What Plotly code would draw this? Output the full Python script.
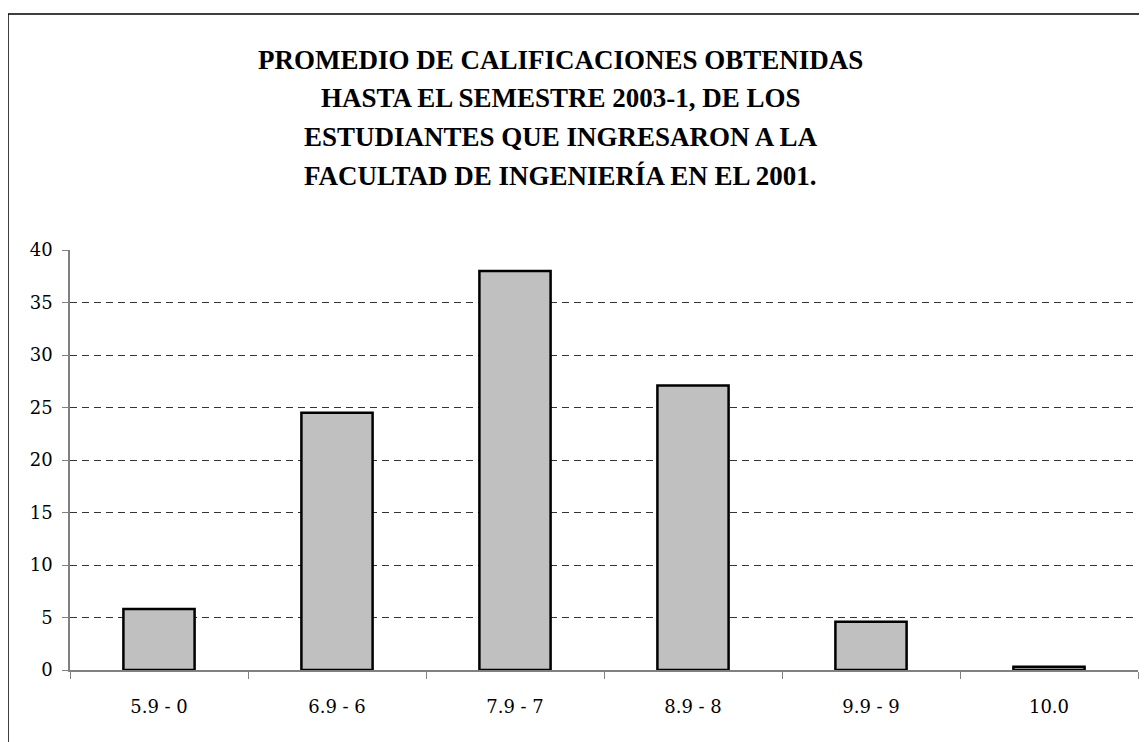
import plotly.graph_objects as go

categories = ["5.9 - 0", "6.9 - 6", "7.9 - 7", "8.9 - 8", "9.9 - 9", "10.0"]
values = [5.8, 24.5, 38.0, 27.1, 4.6, 0.3]
y_ticks = [0, 5, 10, 15, 20, 25, 30, 35, 40]
grid_ticks = [5, 10, 15, 20, 25, 30, 35]

title_lines = ["PROMEDIO DE CALIFICACIONES OBTENIDAS",
               "HASTA EL SEMESTRE 2003-1, DE LOS",
               "ESTUDIANTES QUE INGRESARON A LA",
               "FACULTAD DE INGENIERÍA EN EL 2001."]
title_y = [1.452, 1.362, 1.269, 1.176]

SERIF = "Liberation Serif, DejaVu Serif, serif"
TICKSERIF = "DejaVu Serif, Liberation Serif, serif"

fig = go.Figure()
# invisible trace to activate the dashed-grid axis
fig.add_trace(go.Scatter(x=categories, y=values, yaxis="y2", mode="none",
                         hoverinfo="skip", showlegend=False))
fig.add_trace(go.Bar(
    x=categories, y=values,
    marker=dict(color="#C0C0C0", line=dict(color="black", width=2.5)),
    width=0.4, yaxis="y",
))

fig.update_layout(
    width=1139, height=734,
    paper_bgcolor="white", plot_bgcolor="white",
    margin=dict(l=62, r=9, t=242, b=72),
    font=dict(family=TICKSERIF, color="black", size=18),
    showlegend=False,
    xaxis=dict(
        type="category", showline=True, linecolor="#808080", linewidth=1.5,
        ticks="outside", tickson="boundaries", ticklen=7, tickcolor="#808080",
        showgrid=False, tickfont=dict(family=TICKSERIF, size=18), range=[-0.5, 5.5],
        ticklabelstandoff=20,
    ),
    yaxis=dict(
        range=[0, 40], tickvals=y_ticks, showgrid=False, zeroline=False,
        showline=True, linecolor="#808080", linewidth=1.5,
        ticks="outside", ticklen=6, tickcolor="#808080",
        tickfont=dict(family=TICKSERIF, size=18), ticklabelstandoff=6,
    ),
    yaxis2=dict(
        range=[0, 40], overlaying="y", tickvals=grid_ticks, showgrid=True,
        gridcolor="#333333", griddash="7px,5px", gridwidth=1,
        showticklabels=False, zeroline=False, showline=False,
    ),
)

for line, yy in zip(title_lines, title_y):
    fig.add_annotation(text="<b>" + line + "</b>", xref="paper", yref="paper",
                       x=0.4597, y=yy, xanchor="center", yanchor="middle",
                       showarrow=False, font=dict(family=SERIF, size=27, color="black"))

fig.add_shape(type="rect", xref="paper", yref="paper",
              x0=-62/1068, x1=1.2, y0=-0.5, y1=656/420,
              line=dict(color="black", width=1.5), fillcolor="rgba(0,0,0,0)", layer="above")

fig.write_html("out.html")
